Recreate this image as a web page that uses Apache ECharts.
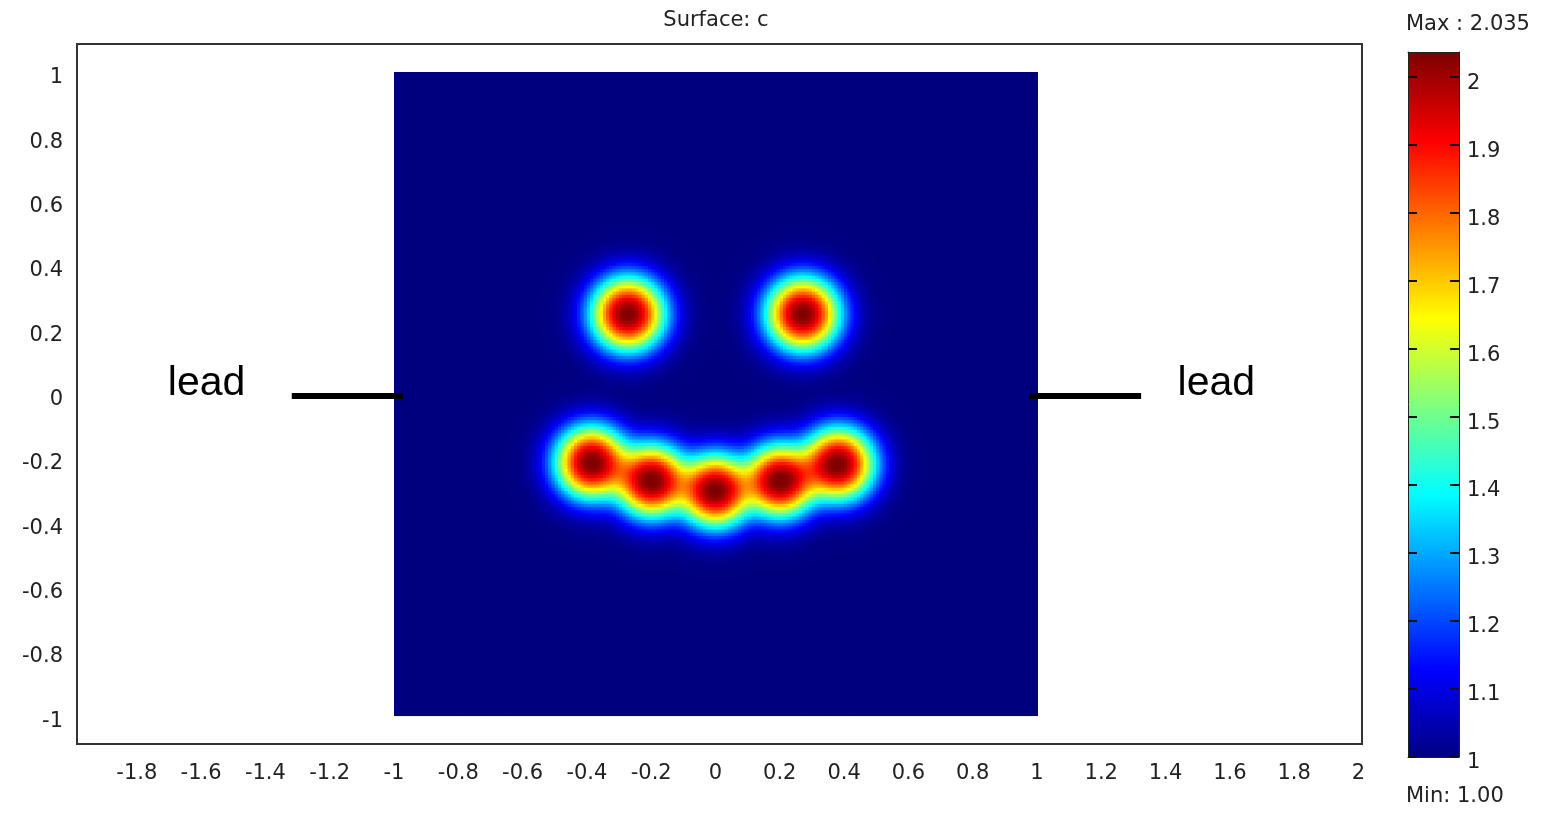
<!DOCTYPE html>
<html>
<head>
<meta charset="utf-8">
<script src="https://cdn.jsdelivr.net/npm/echarts@6/dist/echarts.min.js"></script>
<style>html,body{margin:0;padding:0;background:#fff;}#c{width:1543px;height:813px;}</style>
</head>
<body>
<div id="c"></div>
<script>
// ---- data ----
const xTicks = [-1.8, -1.6, -1.4, -1.2, -1, -0.8, -0.6, -0.4, -0.2, 0, 0.2, 0.4, 0.6, 0.8, 1, 1.2, 1.4, 1.6, 1.8, 2];
const yTicks = [-1, -0.8, -0.6, -0.4, -0.2, 0, 0.2, 0.4, 0.6, 0.8, 1];
const colorTicks = [1, 1.1, 1.2, 1.3, 1.4, 1.5, 1.6, 1.7, 1.8, 1.9, 2];
const cMin = 1.00;
const cMax = 2.035;
// square domain of the surface
const domainX = [-1, 1];
const domainY = [-1, 1];
// concentration blobs (eyes + mouth): centre, peak rise above background, radius scale
const blobX = [-0.272, 0.272, -0.385, -0.198, 0.0, 0.201, 0.382];
const blobY = [0.25, 0.25, -0.212, -0.269, -0.3, -0.269, -0.217];
const blobRise = [1.035, 1.035, 1.035, 1.035, 1.035, 1.035, 1.035];
const blobRadius = [0.118, 0.118, 0.116, 0.116, 0.116, 0.116, 0.116];
const blobShape = 2.3;   // flat-topped profile exponent
const blendPower = 1.6;  // how overlapping blobs add up
// leads
const leadLines = [[[-1.318, -0.008], [-0.972, -0.008]], [[0.975, -0.008], [1.324, -0.008]]];
const leadLabels = [[-1.583, 0.03], [1.558, 0.03]];

// ---- build surface grid ----
const N = 200;
const step = (domainX[1] - domainX[0]) / N;
const surf = [];
for (let i = 0; i < N; i++) {
  const x = domainX[0] + (i + 0.5) * step;
  for (let j = 0; j < N; j++) {
    const y = domainY[0] + (j + 0.5) * step;
    let acc = 0;
    for (let k = 0; k < blobX.length; k++) {
      const r = Math.hypot(x - blobX[k], y - blobY[k]) / blobRadius[k];
      const f = blobRise[k] * Math.exp(-Math.pow(r, blobShape));
      acc += Math.pow(f, blendPower);
    }
    const v = cMin + Math.pow(acc, 1 / blendPower);
    surf.push([x, y, Math.min(v, cMax)]);
  }
}
const cbTop = 2.037;
const cbStep = 0.002;
const cbData = [];
for (let v = cMin; v < cbTop - 1e-9; v += cbStep) cbData.push([0.5, v + cbStep / 2, Math.min(v + cbStep / 2, cMax)]);

const jet = ['#00007F', '#0000FF', '#007FFF', '#00FFFF', '#7FFF7F', '#FFFF00', '#FF7F00', '#FF0000', '#7F0000'];
const FONT = 'DejaVu Sans';
const TXT = '#222';
const FS = 21;
// main axis range and the small downward nudge of the tick labels (in axis units)
const yMin = -1.09, yMax = 1.087, yLabelShift = 0.0187;
// colour-bar label axis: same scale as the bar, on a taller grid (20px extra each end), nudged down
const cbPx = 705 / (cbTop - cMin);
const cbPad = 20 / cbPx;
const cbLabelShift = 0.0088;

const chart = echarts.init(document.getElementById('c'), null, {renderer: 'canvas'});
const hiddenAxis = {axisLine: {show: false}, axisTick: {show: false}, splitLine: {show: false}};
chart.setOption({
  animation: false,
  backgroundColor: '#fff',
  grid: [
    {left: 77, top: 44, right: 181, bottom: 69, show: true, borderColor: '#333', borderWidth: 2, backgroundColor: 'transparent'},
    {left: 1408, top: 52, width: 51, height: 705, show: false},
    {left: 1408, top: 32, width: 51, height: 745, show: false}
  ],
  xAxis: [
    {gridIndex: 0, type: 'value', min: -1.986, max: 2.011, axisLine: {show: false}, axisTick: {show: false}, splitLine: {show: false},
     axisLabel: {customValues: xTicks, margin: 19, fontSize: FS, fontFamily: FONT, color: TXT, formatter: v => String(v)}},
    {gridIndex: 1, type: 'value', min: 0, max: 1, position: 'bottom', axisLine: {show: true, onZero: false, lineStyle: {color: '#222', width: 1}}, axisTick: {show: false}, axisLabel: {show: false}, splitLine: {show: false}, z: 10},
    {gridIndex: 1, type: 'value', min: 0, max: 1, position: 'top', axisLine: {show: true, onZero: false, lineStyle: {color: '#222', width: 1}}, axisTick: {show: false}, axisLabel: {show: false}, splitLine: {show: false}, z: 10},
    Object.assign({gridIndex: 2, type: 'value', min: 0, max: 1, axisLabel: {show: false}}, hiddenAxis)
  ],
  yAxis: [
    // 0: main y axis (data)
    Object.assign({gridIndex: 0, type: 'value', min: yMin, max: yMax, axisLabel: {show: false}}, hiddenAxis),
    // 1: colour bar scale, right side ticks
    {gridIndex: 1, type: 'value', min: cMin, max: cbTop, position: 'right', z: 10,
     axisLine: {show: true, onZero: false, lineStyle: {color: '#222', width: 1}},
     axisTick: {show: true, inside: true, length: 9, customValues: colorTicks, lineStyle: {color: '#111', width: 2}},
     axisLabel: {show: false}, splitLine: {show: false}},
    // 2: colour bar left side ticks
    {gridIndex: 1, type: 'value', min: cMin, max: cbTop, position: 'left', z: 10,
     axisLine: {show: true, onZero: false, lineStyle: {color: '#222', width: 1}},
     axisTick: {show: true, inside: true, length: 9, customValues: colorTicks, lineStyle: {color: '#111', width: 2}},
     axisLabel: {show: false}, splitLine: {show: false}},
    // 3: main y tick labels
    Object.assign({gridIndex: 0, type: 'value', position: 'left', min: yMin + yLabelShift, max: yMax + yLabelShift,
     axisLabel: {customValues: yTicks, margin: 14, fontSize: FS, fontFamily: FONT, color: TXT, formatter: v => String(v)}}, hiddenAxis),
    // 4: colour bar tick labels
    Object.assign({gridIndex: 2, type: 'value', position: 'right', min: cMin - cbPad + cbLabelShift, max: cbTop + cbPad + cbLabelShift,
     axisLabel: {customValues: colorTicks, margin: 8, fontSize: FS, fontFamily: FONT, color: TXT, formatter: v => String(v)}}, hiddenAxis)
  ],
  visualMap: {
    show: false, type: 'continuous', seriesIndex: [0, 1], dimension: 2, min: cMin, max: cMax,
    inRange: {color: jet}
  },
  graphic: [
    {type: 'text', x: 716, y: 21, style: {text: 'Surface: c', align: 'center', verticalAlign: 'middle', fontSize: FS, fontFamily: FONT, fill: TXT}},
    {type: 'text', x: 1406, y: 25, style: {text: 'Max : 2.035', align: 'left', verticalAlign: 'middle', fontSize: FS, fontFamily: FONT, fill: TXT}},
    {type: 'text', x: 1406, y: 797, style: {text: 'Min: 1.00', align: 'left', verticalAlign: 'middle', fontSize: FS, fontFamily: FONT, fill: TXT}}
  ],
  series: [
    {
      type: 'custom', xAxisIndex: 0, yAxisIndex: 0, data: surf, progressive: 0, animation: false, silent: true,
      encode: {x: 0, y: 1},
      renderItem: function (params, api) {
        const x = api.value(0), y = api.value(1), h = step / 2;
        const p0 = api.coord([x - h, y + h]);
        const p1 = api.coord([x + h, y - h]);
        return {type: 'rect', shape: {x: p0[0], y: p0[1], width: p1[0] - p0[0] + 1, height: p1[1] - p0[1] + 1}, style: {fill: api.visual('color')}};
      }
    },
    {
      type: 'custom', xAxisIndex: 1, yAxisIndex: 1, data: cbData, progressive: 0, animation: false, silent: true, clip: true,
      encode: {x: 0, y: 1},
      renderItem: function (params, api) {
        const v = api.value(1), h = cbStep / 2;
        const p0 = api.coord([0, v + h]);
        const p1 = api.coord([1, v - h]);
        return {type: 'rect', shape: {x: p0[0], y: p0[1], width: p1[0] - p0[0], height: p1[1] - p0[1] + 1}, style: {fill: api.visual('color')}};
      }
    },
    {
      type: 'lines', coordinateSystem: 'cartesian2d', xAxisIndex: 0, yAxisIndex: 0, silent: true,
      data: leadLines.map(c => ({coords: c})),
      lineStyle: {color: '#000', width: 6, opacity: 1}, z: 5
    },
    {
      type: 'scatter', xAxisIndex: 0, yAxisIndex: 0, symbolSize: 0, silent: true, z: 5,
      itemStyle: {opacity: 1},
      data: leadLabels,
      label: {show: true, position: 'inside', formatter: 'lead', fontSize: 41, fontFamily: 'Liberation Sans', color: '#000', textBorderWidth: 0, opacity: 1}
    }
  ]
});
</script>
</body>
</html>
